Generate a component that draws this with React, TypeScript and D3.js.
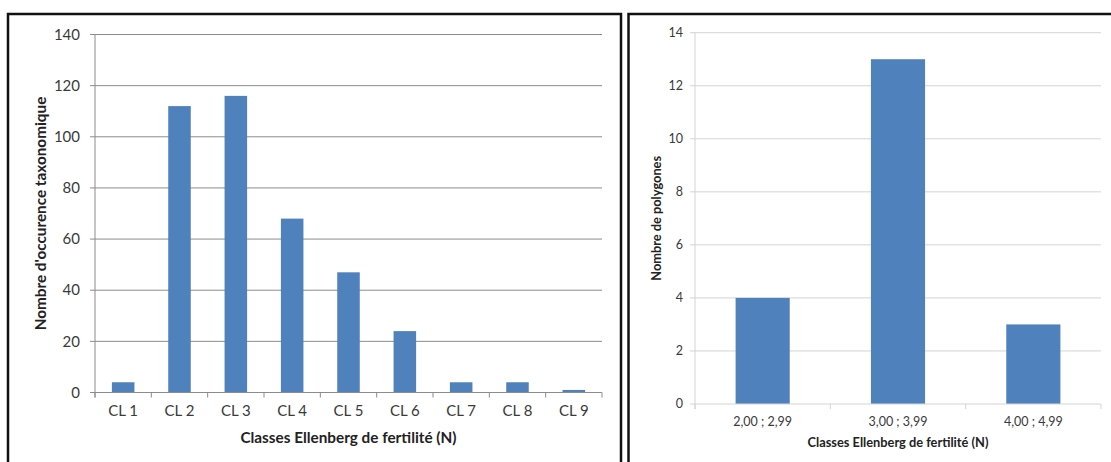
import React from "react";
import * as d3 from "d3";

const leftCategories = ["CL 1", "CL 2", "CL 3", "CL 4", "CL 5", "CL 6", "CL 7", "CL 8", "CL 9"];
const leftValues = [4, 112, 116, 68, 47, 24, 4, 4, 1];
const leftTicks = [0, 20, 40, 60, 80, 100, 120, 140];

const rightCategories = ["2,00 ; 2,99", "3,00 ; 3,99", "4,00 ; 4,99"];
const rightValues = [4, 13, 3];
const rightTicks = [0, 2, 4, 6, 8, 10, 12, 14];

const FONT = "Lato, 'Open Sans', sans-serif";
const BAR = "#4F81BD";

type PanelProps = {
  cats: string[];
  vals: number[];
  ticks: number[];
  x0: number;
  x1: number;
  yTop: number;
  yBot: number;
  maxV: number;
  gridColor: string;
  tickFont: number;
  titleFont: number;
  catLabelY: number;
  xTitleY: number;
  yTitleX: number;
  yLabelRight: number;
  xTitle: string;
  yTitle: string;
};

function Panel(p: PanelProps) {
  const x = d3.scaleBand<string>().domain(p.cats).range([p.x0, p.x1]).paddingInner(0.6).paddingOuter(0.3);
  const band = d3.scaleBand<string>().domain(p.cats).range([p.x0, p.x1]);
  const y = d3.scaleLinear().domain([0, p.maxV]).range([p.yBot, p.yTop]);
  const boundaries = d3.range(p.cats.length + 1).map((i) => p.x0 + i * band.step());
  return (
    <g>
      {p.ticks.map((t) => (
        <g key={t}>
          <line x1={p.x0 - 5} x2={t === 0 ? p.x0 : p.x1} y1={y(t)} y2={y(t)} stroke={p.gridColor} strokeWidth={1} />
          <text x={p.yLabelRight} y={y(t)} dy="0.35em" textAnchor="end" fontSize={p.tickFont} fill="#3a3a3a" fontFamily={FONT}>
            {t}
          </text>
        </g>
      ))}
      {p.cats.map((c, i) => (
        <rect key={c} x={x(c)} y={y(p.vals[i])} width={x.bandwidth()} height={y(0) - y(p.vals[i])} fill={BAR} />
      ))}
      <line x1={p.x0} x2={p.x0} y1={p.yTop} y2={p.yBot + 5} stroke={p.gridColor} strokeWidth={1} />
      <line x1={p.x0} x2={p.x1} y1={p.yBot} y2={p.yBot} stroke={p.gridColor} strokeWidth={1} />
      {boundaries.map((b, i) => (
        <line key={i} x1={b} x2={b} y1={p.yBot} y2={p.yBot + 5} stroke={p.gridColor} strokeWidth={1} />
      ))}
      {p.cats.map((c) => (
        <text key={c} x={(band(c) as number) + band.bandwidth() / 2} y={p.catLabelY} dy="0.35em" textAnchor="middle" fontSize={p.tickFont} fill="#3a3a3a" fontFamily={FONT}>
          {c}
        </text>
      ))}
      <text x={(p.x0 + p.x1) / 2} y={p.xTitleY} dy="0.35em" textAnchor="middle" fontSize={p.titleFont} fontWeight="bold" fill="#222" fontFamily={FONT}>
        {p.xTitle}
      </text>
      <text transform={`translate(${p.yTitleX},${(p.yTop + p.yBot) / 2}) rotate(-90)`} dy="0.35em" textAnchor="middle" fontSize={p.titleFont} fontWeight="bold" fill="#222" fontFamily={FONT}>
        {p.yTitle}
      </text>
    </g>
  );
}

export default function App() {
  return (
    <svg width={1111} height={462} style={{ position: "absolute", left: 0, top: 0, background: "#fff" }}>
      <rect x={0} y={0} width={1111} height={462} fill="#fff" />
      <rect x={8} y={14} width={613} height={470} fill="none" stroke="#111" strokeWidth={2.5} />
      <rect x={628.5} y={14} width={500} height={470} fill="none" stroke="#111" strokeWidth={2.5} />
      <Panel
        cats={leftCategories}
        vals={leftValues}
        ticks={leftTicks}
        x0={95}
        x1={602}
        yTop={34.5}
        yBot={392.5}
        maxV={140}
        gridColor="#8c8c8c"
        tickFont={15}
        titleFont={15.3}
        catLabelY={411}
        xTitleY={438}
        yTitleX={41}
        yLabelRight={80}
        xTitle="Classes Ellenberg de fertilité (N)"
        yTitle="Nombre d'occurence taxonomique"
      />
      <Panel
        cats={rightCategories}
        vals={rightValues}
        ticks={rightTicks}
        x0={695}
        x1={1101}
        yTop={32.7}
        yBot={404}
        maxV={14}
        gridColor="#d4d4d4"
        tickFont={12.5}
        titleFont={12.8}
        catLabelY={421.5}
        xTitleY={443}
        yTitleX={657}
        yLabelRight={683}
        xTitle="Classes Ellenberg de fertilité (N)"
        yTitle="Nombre de polygones"
      />
    </svg>
  );
}
